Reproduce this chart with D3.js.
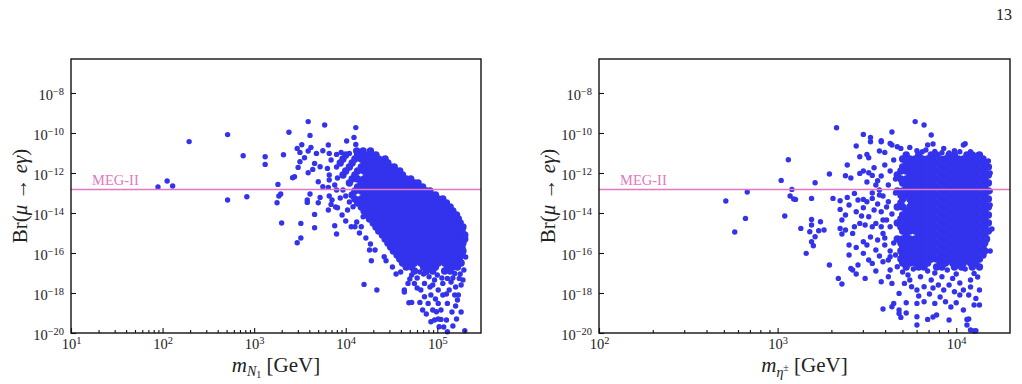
<!DOCTYPE html>
<html>
<head>
<meta charset="utf-8">
<script src="https://cdn.jsdelivr.net/npm/d3@7"></script>
<style>
    body { margin: 0; background: #fff; }
    svg text { font-family: "Liberation Serif", "DejaVu Serif", serif; fill: #222; }
</style>
</head>
<body>
<svg id="chart"></svg>
<script>
// ---- data (all values are log10) ----
const megLimit = 1.5e-13
const yTickExps = [-20, -18, -16, -14, -12, -10, -8]
const n1TickExps = [1, 2, 3, 4, 5]
const etaTickExps = [2, 3, 4]

// scattered points: [log10 m, log10 Br]
const n1Scatter = [
    [1.95, -12.70], [2.05, -12.40], [2.11, -12.65], [2.29, -10.43], [2.71, -10.08], [2.88, -11.14], [2.71, -13.35], [2.92, -13.19],
    [3.12, -11.19], [3.12, -11.57], [3.32, -11.09], [3.38, -9.96], [3.59, -9.43], [3.77, -9.60], [3.61, -10.12], [3.47, -10.77],
    [3.52, -10.59], [3.62, -10.72], [3.59, -10.90], [3.50, -10.97], [3.55, -11.24], [3.50, -11.44], [3.48, -11.72], [3.68, -11.02],
    [3.75, -10.89], [3.81, -10.60], [3.82, -11.02], [3.90, -11.07], [3.66, -11.52], [3.72, -11.69], [3.64, -11.82], [3.80, -11.77],
    [3.84, -11.35], [3.59, -11.99], [3.44, -12.19], [3.42, -12.24], [3.82, -12.10], [3.82, -12.35], [3.70, -12.44], [3.75, -12.69],
    [3.81, -12.72], [3.88, -12.60], [3.26, -12.57], [3.29, -13.05], [3.27, -13.15], [3.25, -13.49], [3.61, -13.05], [3.58, -13.35],
    [3.58, -13.47], [3.72, -13.22], [3.70, -13.49], [3.82, -13.15], [3.85, -13.35], [3.84, -13.57], [3.91, -13.74], [3.81, -13.85],
    [3.66, -14.07], [3.30, -14.50], [3.51, -14.52], [3.66, -14.74], [3.88, -14.64], [3.90, -15.05], [3.51, -15.25], [3.47, -15.49],
    [4.11, -9.73], [4.01, -10.40], [4.09, -10.22], [4.11, -10.57], [3.95, -10.97], [4.04, -11.02],
    [3.90, -11.70], [3.91, -12.25], [3.90, -12.85], [3.89, -13.70], [4.00, -13.15], [3.97, -12.85], [4.02, -13.85], [4.08, -13.69],
    [4.19, -14.19], [4.06, -14.69], [4.10, -14.69], [4.17, -14.69], [4.22, -15.25], [4.27, -15.55], [4.26, -15.85], [4.32, -15.85],
    [4.42, -16.19], [4.28, -16.39], [4.44, -16.39], [4.51, -16.70], [4.20, -17.57], [4.34, -17.85], [4.64, -17.85], [4.69, -18.49],
    [3.96, -14.10], [4.00, -14.40], [4.04, -13.45], [3.94, -13.25], [4.12, -14.45], [4.15, -15.00],
    [4.68, -17.52], [4.72, -18.47], [4.81, -18.47], [4.84, -18.85], [4.88, -19.05], [4.93, -19.44], [4.97, -19.35], [5.01, -19.30],
    [5.04, -19.32], [5.10, -19.35], [5.02, -19.69], [5.11, -19.94], [5.21, -19.30], [5.30, -19.89], [4.99, -18.94], [5.04, -18.85],
    [5.11, -18.52], [5.19, -18.10], [5.22, -18.35], [5.26, -17.60], [5.28, -17.35], [5.24, -17.27], [5.19, -17.02], [5.11, -17.27],
    [5.06, -17.52], [5.01, -17.85], [4.93, -18.10], [4.86, -18.19], [4.82, -17.85], [4.75, -17.52], [4.86, -17.52], [4.91, -17.19],
    [4.97, -17.35], [5.01, -18.52], [5.06, -18.10], [4.90, -18.52], [4.95, -18.85], [4.72, -17.10], [4.81, -16.95], [5.08, -16.90],
    [5.15, -17.45], [5.13, -17.85], [5.20, -18.65], [5.26, -18.95], [4.92, -17.70], [4.64, -17.95], [5.17, -19.65], [5.07, -19.70],
    [5.25, -17.05], [4.78, -17.25], [5.16, -18.95],
    [4.60, -16.95], [4.70, -17.30], [4.85, -17.05], [5.00, -17.10], [5.05, -17.25], [5.17, -17.25], [4.95, -17.60], [5.20, -17.70],
    [4.78, -17.75], [5.10, -18.05], [4.98, -18.30], [5.23, -18.10], [4.55, -17.05], [4.88, -16.95], [5.29, -16.85], [5.31, -16.20]
]

// dense core: [log10 Br, [log10 m, ...]]
const n1CoreRows = [
    [-10.9, [4.12, 4.19, 4.27]],
    [-11.1, [4.00, 4.13, 4.20, 4.26, 4.33]],
    [-11.3, [3.97, 4.10, 4.17, 4.23, 4.30, 4.36, 4.43]],
    [-11.5, [3.94, 4.07, 4.20, 4.26, 4.33, 4.40, 4.46]],
    [-11.7, [4.04, 4.17, 4.23, 4.30, 4.36, 4.43, 4.49, 4.53]],
    [-11.9, [4.00, 4.13, 4.20, 4.26, 4.33, 4.40, 4.46, 4.52, 4.59]],
    [-12.1, [3.97, 4.10, 4.23, 4.30, 4.36, 4.43, 4.49, 4.56, 4.62]],
    [-12.3, [4.07, 4.13, 4.20, 4.26, 4.33, 4.40, 4.46, 4.52, 4.59, 4.66, 4.71]],
    [-12.5, [4.04, 4.17, 4.23, 4.30, 4.36, 4.43, 4.49, 4.56, 4.62, 4.69, 4.75, 4.79]],
    [-12.7, [4.13, 4.20, 4.26, 4.33, 4.40, 4.46, 4.52, 4.59, 4.66, 4.72, 4.78, 4.84]],
    [-12.9, [4.10, 4.17, 4.23, 4.30, 4.36, 4.43, 4.49, 4.56, 4.62, 4.69, 4.75, 4.82, 4.88, 4.92]],
    [-13.1, [4.07, 4.20, 4.26, 4.33, 4.40, 4.46, 4.52, 4.59, 4.66, 4.72, 4.78, 4.85, 4.92, 4.98]],
    [-13.3, [4.10, 4.17, 4.23, 4.30, 4.36, 4.43, 4.49, 4.56, 4.62, 4.69, 4.75, 4.82, 4.88, 4.95, 5.01, 5.06]],
    [-13.5, [4.13, 4.20, 4.26, 4.33, 4.40, 4.46, 4.52, 4.59, 4.66, 4.72, 4.78, 4.85, 4.92, 4.98, 5.04, 5.10]],
    [-13.7, [4.17, 4.23, 4.30, 4.36, 4.43, 4.49, 4.56, 4.62, 4.69, 4.75, 4.82, 4.88, 4.95, 5.01, 5.08, 5.14]],
    [-13.9, [4.20, 4.26, 4.33, 4.40, 4.46, 4.52, 4.59, 4.66, 4.72, 4.78, 4.85, 4.92, 4.98, 5.04, 5.11, 5.17]],
    [-14.1, [4.23, 4.30, 4.36, 4.43, 4.49, 4.56, 4.62, 4.69, 4.75, 4.82, 4.88, 4.95, 5.01, 5.08, 5.14, 5.21]],
    [-14.3, [4.26, 4.33, 4.40, 4.46, 4.52, 4.59, 4.66, 4.72, 4.78, 4.85, 4.92, 4.98, 5.04, 5.11, 5.17, 5.23]],
    [-14.5, [4.30, 4.36, 4.43, 4.49, 4.56, 4.62, 4.69, 4.75, 4.82, 4.88, 4.95, 5.01, 5.08, 5.14, 5.21, 5.25]],
    [-14.7, [4.33, 4.40, 4.46, 4.52, 4.59, 4.66, 4.72, 4.78, 4.85, 4.92, 4.98, 5.04, 5.11, 5.17, 5.24, 5.28]],
    [-14.9, [4.36, 4.43, 4.49, 4.56, 4.62, 4.69, 4.75, 4.82, 4.88, 4.95, 5.01, 5.08, 5.14, 5.21, 5.27]],
    [-15.1, [4.40, 4.46, 4.52, 4.59, 4.66, 4.72, 4.78, 4.85, 4.92, 4.98, 5.04, 5.11, 5.17, 5.24, 5.30]],
    [-15.3, [4.43, 4.49, 4.56, 4.62, 4.69, 4.75, 4.82, 4.88, 4.95, 5.01, 5.08, 5.14, 5.21, 5.27, 5.30]],
    [-15.5, [4.46, 4.52, 4.59, 4.66, 4.72, 4.78, 4.85, 4.92, 4.98, 5.04, 5.11, 5.17, 5.24, 5.28]],
    [-15.7, [4.49, 4.56, 4.62, 4.69, 4.75, 4.82, 4.88, 4.95, 5.01, 5.08, 5.14, 5.21, 5.27]],
    [-15.9, [4.52, 4.59, 4.66, 4.72, 4.78, 4.85, 4.92, 4.98, 5.04, 5.11, 5.17, 5.24, 5.28]],
    [-16.1, [4.56, 4.62, 4.69, 4.75, 4.82, 4.88, 4.95, 5.01, 5.08, 5.14, 5.21, 5.27]],
    [-16.3, [4.59, 4.66, 4.72, 4.78, 4.85, 4.92, 4.98, 5.04, 5.11, 5.17, 5.24]],
    [-16.5, [4.62, 4.69, 4.75, 4.82, 4.88, 4.95, 5.01, 5.08, 5.14, 5.21, 5.26]],
    [-16.7, [4.66, 4.72, 4.85, 4.92, 4.98, 5.11, 5.17, 5.22]],
    [-16.9, [4.75, 4.88, 4.95, 5.08, 5.14]]
]

const etaScatter = [
    [2.71, -13.40], [2.76, -14.95], [2.82, -14.27], [2.83, -12.95], [3.02, -12.37], [3.06, -11.34], [3.08, -12.82], [3.07, -13.15],
    [3.09, -13.30], [3.04, -14.15], [3.13, -14.77], [3.33, -9.74], [3.48, -10.07], [3.52, -10.22], [3.52, -10.44], [3.44, -10.65],
    [3.58, -10.44], [3.64, -9.95], [3.57, -10.90], [3.60, -10.97], [3.64, -10.60], [3.46, -11.19], [3.50, -11.07], [3.51, -11.24],
    [3.65, -11.35], [3.39, -11.60], [3.29, -12.05], [3.38, -12.14], [3.41, -12.25], [3.46, -12.02], [3.48, -11.90], [3.51, -11.99],
    [3.54, -11.74], [3.53, -12.12], [3.56, -12.39], [3.21, -12.49], [3.10, -13.32], [3.19, -13.27], [3.31, -13.27], [3.35, -13.39],
    [3.39, -13.22], [3.40, -13.60], [3.35, -13.82], [3.38, -14.10], [3.43, -13.02], [3.45, -13.35], [3.48, -13.32], [3.50, -13.44],
    [3.53, -13.27], [3.57, -13.10], [3.59, -13.15], [3.62, -13.44], [3.48, -13.74], [3.54, -13.85], [3.44, -13.94], [3.47, -14.15],
    [3.58, -13.94], [3.59, -14.35], [3.51, -14.19], [3.36, -14.35], [3.19, -14.32], [3.24, -14.44], [3.19, -14.60], [3.18, -14.94],
    [3.23, -14.89], [3.26, -14.85], [3.21, -15.19], [3.19, -15.44], [3.20, -15.64], [3.16, -16.02], [3.29, -16.60], [3.34, -17.27],
    [3.36, -17.55], [3.35, -14.77], [3.38, -14.85], [3.42, -15.02], [3.36, -15.05], [3.40, -15.60], [3.40, -16.10], [3.44, -15.72],
    [3.48, -15.44], [3.50, -15.60], [3.48, -16.02], [3.51, -16.35], [3.53, -16.52], [3.45, -16.60], [3.41, -16.77], [3.42, -16.85],
    [3.44, -17.05], [3.49, -17.27], [3.55, -15.85], [3.56, -15.35], [3.59, -15.02], [3.60, -15.60], [3.59, -16.44], [3.58, -17.44],
    [3.62, -17.19], [3.63, -16.85], [3.64, -17.52], [3.59, -18.80], [3.64, -18.69], [3.43, -14.69], [3.46, -14.52], [3.49, -14.60],
    [3.53, -14.69], [3.58, -14.69], [3.55, -14.52], [3.61, -14.35], [3.63, -14.69],
    [3.60, -11.60], [3.63, -11.90], [3.58, -12.15], [3.62, -12.60], [3.57, -12.85], [3.61, -13.70], [3.56, -13.55], [3.64, -14.05],
    [3.60, -15.25], [3.63, -15.90], [3.57, -16.15], [3.62, -16.35], [3.55, -12.60], [3.53, -13.00], [3.66, -12.30], [3.66, -13.00],
    [3.65, -15.50], [3.66, -16.10], [3.52, -15.20], [3.55, -16.90], [3.50, -12.45],
    [3.77, -9.43], [3.82, -9.60], [3.86, -10.10], [3.84, -10.60], [3.87, -10.55], [3.93, -10.77], [4.05, -10.54], [3.63, -10.52],
    [3.69, -10.77], [3.74, -10.72], [3.78, -10.89], [3.81, -10.94], [3.58, -10.39], [3.67, -10.69], [3.83, -10.85], [3.92, -10.99],
    [3.96, -11.00], [4.02, -10.94], [4.04, -10.60], [4.08, -10.94], [4.12, -11.10], [4.15, -11.52],
    [3.71, -17.52], [3.75, -17.69], [3.78, -17.85], [3.82, -17.69], [3.86, -17.35], [3.90, -17.60], [3.93, -17.85], [3.96, -17.60],
    [3.99, -17.94], [4.02, -18.10], [4.04, -17.85], [3.68, -18.02], [3.72, -18.49], [3.78, -18.52], [3.82, -18.44], [3.88, -18.52],
    [3.94, -18.44], [4.00, -18.49], [4.04, -18.85], [3.68, -18.85], [3.69, -19.22], [3.78, -19.19], [3.78, -19.60], [3.84, -19.32],
    [3.89, -19.10], [3.96, -19.35], [3.65, -18.52], [3.73, -17.10], [3.80, -17.19], [3.92, -17.19], [3.98, -17.27], [4.08, -17.35],
    [4.10, -17.02], [3.67, -16.69], [3.63, -16.19], [4.15, -16.00], [4.13, -16.69], [4.13, -17.85], [4.11, -18.27], [4.13, -18.60],
    [4.07, -18.10], [4.06, -19.32], [4.08, -19.85], [4.11, -19.89], [4.06, -19.60], [3.68, -19.02], [3.87, -19.20], [4.07, -19.30],
    [4.10, -19.90], [3.70, -16.95], [3.76, -16.80], [3.84, -16.90], [3.88, -17.00], [3.95, -16.85], [4.00, -17.05], [4.05, -16.80],
    [4.12, -17.20], [3.74, -17.35], [3.87, -17.75], [4.02, -17.50], [4.08, -17.70], [3.79, -18.15], [3.91, -18.20], [3.85, -18.05],
    [4.10, -18.60], [3.97, -18.70], [3.72, -19.00],
    [4.19, -12.00], [4.19, -13.60], [4.20, -14.80], [4.19, -15.90], [4.18, -11.40], [3.88, -10.92], [3.99, -10.88], [4.19, -12.90]
]

const etaCoreRows = [
    [-11.1, [3.72, 3.79, 3.86, 3.89, 3.96, 3.99, 4.06, 4.09, 4.13]],
    [-11.3, [3.70, 3.74, 3.77, 3.81, 3.84, 3.87, 3.91, 3.94, 3.98, 4.01, 4.04, 4.08, 4.11, 4.15]],
    [-11.5, [3.72, 3.75, 3.79, 3.82, 3.86, 3.89, 3.92, 3.96, 3.99, 4.03, 4.06, 4.09, 4.13, 4.16]],
    [-11.7, [3.70, 3.74, 3.77, 3.81, 3.84, 3.87, 3.91, 3.94, 3.98, 4.01, 4.04, 4.08, 4.11, 4.15, 4.18]],
    [-11.9, [3.69, 3.72, 3.75, 3.79, 3.82, 3.86, 3.89, 3.92, 3.96, 3.99, 4.03, 4.06, 4.09, 4.13, 4.16]],
    [-12.1, [3.67, 3.74, 3.77, 3.81, 3.84, 3.87, 3.91, 3.94, 3.98, 4.01, 4.04, 4.08, 4.11, 4.15, 4.18]],
    [-12.3, [3.69, 3.72, 3.75, 3.79, 3.82, 3.86, 3.89, 3.92, 3.96, 3.99, 4.03, 4.06, 4.09, 4.13, 4.16]],
    [-12.5, [3.70, 3.74, 3.77, 3.81, 3.84, 3.87, 3.91, 3.94, 3.98, 4.01, 4.04, 4.08, 4.11, 4.15, 4.18]],
    [-12.7, [3.72, 3.75, 3.79, 3.82, 3.86, 3.89, 3.92, 3.96, 3.99, 4.03, 4.06, 4.09, 4.13, 4.16]],
    [-12.9, [3.67, 3.70, 3.74, 3.77, 3.81, 3.84, 3.87, 3.91, 3.94, 3.98, 4.01, 4.04, 4.08, 4.11, 4.15, 4.18]],
    [-13.1, [3.69, 3.72, 3.75, 3.79, 3.82, 3.86, 3.89, 3.92, 3.96, 3.99, 4.03, 4.06, 4.09, 4.13, 4.16]],
    [-13.3, [3.70, 3.74, 3.77, 3.81, 3.84, 3.87, 3.91, 3.94, 3.98, 4.01, 4.04, 4.08, 4.11, 4.15, 4.18]],
    [-13.5, [3.69, 3.75, 3.79, 3.82, 3.86, 3.89, 3.92, 3.96, 3.99, 4.03, 4.06, 4.09, 4.13, 4.16]],
    [-13.7, [3.67, 3.70, 3.74, 3.77, 3.81, 3.84, 3.87, 3.91, 3.94, 3.98, 4.01, 4.04, 4.08, 4.11, 4.15, 4.18]],
    [-13.9, [3.72, 3.75, 3.79, 3.82, 3.86, 3.89, 3.92, 3.96, 3.99, 4.03, 4.06, 4.09, 4.13, 4.16]],
    [-14.1, [3.70, 3.74, 3.77, 3.81, 3.84, 3.87, 3.91, 3.94, 3.98, 4.01, 4.04, 4.08, 4.11, 4.15, 4.18]],
    [-14.3, [3.69, 3.72, 3.75, 3.79, 3.82, 3.86, 3.89, 3.92, 3.96, 3.99, 4.03, 4.06, 4.09, 4.13, 4.16]],
    [-14.5, [3.67, 3.70, 3.74, 3.77, 3.81, 3.84, 3.87, 3.91, 3.94, 3.98, 4.01, 4.04, 4.08, 4.11, 4.15, 4.18]],
    [-14.7, [3.69, 3.72, 3.75, 3.79, 3.82, 3.86, 3.89, 3.92, 3.96, 3.99, 4.03, 4.06, 4.09, 4.13, 4.16]],
    [-14.9, [3.70, 3.74, 3.77, 3.81, 3.84, 3.87, 3.91, 3.94, 3.98, 4.01, 4.04, 4.08, 4.11, 4.15, 4.18]],
    [-15.1, [3.72, 3.79, 3.82, 3.86, 3.89, 3.92, 3.96, 3.99, 4.03, 4.06, 4.09, 4.13, 4.16]],
    [-15.3, [3.67, 3.70, 3.74, 3.77, 3.81, 3.84, 3.87, 3.91, 3.94, 3.98, 4.01, 4.04, 4.08, 4.11, 4.15, 4.17]],
    [-15.5, [3.69, 3.72, 3.75, 3.79, 3.82, 3.86, 3.89, 3.92, 3.96, 3.99, 4.03, 4.06, 4.09, 4.13, 4.16]],
    [-15.7, [3.70, 3.74, 3.77, 3.81, 3.84, 3.87, 3.91, 3.94, 3.98, 4.01, 4.04, 4.08, 4.11, 4.15]],
    [-15.9, [3.69, 3.72, 3.75, 3.79, 3.82, 3.86, 3.89, 3.92, 3.96, 3.99, 4.03, 4.06, 4.09, 4.13, 4.16]],
    [-16.1, [3.70, 3.74, 3.77, 3.81, 3.84, 3.87, 3.91, 3.94, 3.98, 4.01, 4.04, 4.08, 4.11, 4.15]],
    [-16.3, [3.69, 3.72, 3.75, 3.79, 3.82, 3.86, 3.89, 3.92, 3.96, 3.99, 4.03, 4.06, 4.09, 4.13]],
    [-16.5, [3.70, 3.74, 3.77, 3.81, 3.84, 3.91, 3.94, 3.98, 4.01, 4.04, 4.08, 4.11]],
    [-16.7, [3.72, 3.79, 3.82, 3.89, 3.92, 3.99, 4.03, 4.09, 4.13]]
]

// ---- layout ----
const chart = { width: 1022, height: 384 }
const plotTop = 59
const plotBottom = 333
const pointColor = "#3333ee"
const megColor = "#e377c2"

const svg = d3.select("#chart")
    .attr("width", chart.width)
    .attr("height", chart.height)
    .style("background", "#fff")

function flatten(scatter, rows) {
    let pts = scatter.map(d => ({ m: Math.pow(10, d[0]), br: Math.pow(10, d[1]), r: 2.7 }))
    rows.forEach(row => {
        row[1].forEach(lx => pts.push({ m: Math.pow(10, lx), br: Math.pow(10, row[0]), r: 3.7 }))
    })
    return pts
}

function powerLabel(sel, exp) {
    sel.text(null)
    sel.append("tspan").text("10")
    sel.append("tspan")
        .attr("dy", "-0.5em")
        .attr("font-size", "0.72em")
        .text(String(exp).replace("-", "\u2212"))
}

function drawPanel(p) {
    const x = d3.scaleLog().domain(p.xDomain).range([p.left, p.right])
    const y = d3.scaleLog().domain([1e-20, 5e-7]).range([plotBottom, plotTop])
    const g = svg.append("g")

    // points
    g.append("g")
        .selectAll("circle")
        .data(p.points)
        .enter()
        .append("circle")
        .attr("cx", d => x(d.m))
        .attr("cy", d => y(d.br))
        .attr("r", d => d.r)
        .attr("fill", pointColor)

    // MEG-II line
    g.append("line")
        .attr("x1", p.left).attr("x2", p.right)
        .attr("y1", y(megLimit)).attr("y2", y(megLimit))
        .attr("stroke", megColor)
        .attr("stroke-width", 1.5)
    g.append("text")
        .attr("x", p.left + 21)
        .attr("y", y(megLimit) - 4.5)
        .attr("font-size", 14.5)
        .style("fill", megColor)
        .text("MEG-II")

    // minor x ticks
    const minors = []
    const lo = Math.floor(Math.log10(p.xDomain[0])), hi = Math.ceil(Math.log10(p.xDomain[1]))
    for (let e = lo; e < hi; e++) {
        for (let k = 2; k <= 9; k++) {
            const v = k * Math.pow(10, e)
            if (v > p.xDomain[0] && v < p.xDomain[1]) minors.push(v)
        }
    }
    g.append("g")
        .attr("transform", "translate(0," + plotBottom + ")")
        .call(d3.axisBottom(x).tickValues(minors).tickSize(-3).tickFormat(""))
        .call(a => a.select(".domain").remove())

    // major x ticks
    const xAxis = g.append("g")
        .attr("transform", "translate(0," + plotBottom + ")")
        .call(d3.axisBottom(x).tickValues(p.xTickExps.map(e => Math.pow(10, e))).tickSize(-5))
    xAxis.select(".domain").remove()
    xAxis.selectAll("text")
        .attr("font-size", 14.5)
        .attr("y", 16)
        .attr("dy", null)
        .each(function (d) { powerLabel(d3.select(this), Math.round(Math.log10(d))) })

    // y ticks
    const yAxis = g.append("g")
        .attr("transform", "translate(" + p.left + ",0)")
        .call(d3.axisLeft(y).tickValues(yTickExps.map(e => Math.pow(10, e))).tickSize(-5).tickPadding(7))
    yAxis.select(".domain").remove()
    yAxis.selectAll("text")
        .attr("font-size", 14.5)
        .attr("dy", "0.45em")
        .each(function (d) { powerLabel(d3.select(this), Math.round(Math.log10(d))) })
    svg.selectAll(".tick line").attr("stroke", "#111").attr("stroke-width", 1.1)
    svg.selectAll(".tick text").style("fill", "#222").attr("font-family", null)

    // frame
    g.append("rect")
        .attr("x", p.left).attr("y", plotTop)
        .attr("width", p.right - p.left).attr("height", plotBottom - plotTop)
        .attr("fill", "none")
        .attr("stroke", "#111")
        .attr("stroke-width", 1.4)

    // y label
    const yl = g.append("text")
        .attr("transform", "translate(" + (p.left - 44) + "," + ((plotTop + plotBottom) / 2) + ") rotate(-90)")
        .attr("text-anchor", "middle")
        .attr("font-size", 21)
    yl.append("tspan").text("Br(")
    yl.append("tspan").attr("font-style", "italic").text("\u03bc")
    yl.append("tspan").text(" \u2192 ")
    yl.append("tspan").attr("font-style", "italic").text("e\u03b3")
    yl.append("tspan").text(")")

    // x label
    const xl = g.append("text")
        .attr("x", (p.left + p.right) / 2)
        .attr("y", 372)
        .attr("text-anchor", "middle")
        .attr("font-size", 21)
    p.xLabel(xl)
}

drawPanel({
    left: 71, right: 481,
    xDomain: [10, 3e5],
    xTickExps: n1TickExps,
    points: flatten(n1Scatter, n1CoreRows),
    xLabel: t => {
        t.append("tspan").attr("font-style", "italic").text("m")
        t.append("tspan").attr("font-style", "italic").attr("font-size", 14).attr("dy", 4).text("N")
        t.append("tspan").attr("font-size", 10).attr("dy", 2).text("1")
        t.append("tspan").attr("dy", -6).text(" [GeV]")
    }
})

drawPanel({
    left: 599, right: 1010,
    xDomain: [100, 2e4],
    xTickExps: etaTickExps,
    points: flatten(etaScatter, etaCoreRows),
    xLabel: t => {
        t.append("tspan").attr("font-style", "italic").text("m")
        t.append("tspan").attr("font-style", "italic").attr("font-size", 14).attr("dy", 5).text("\u03b7")
        t.append("tspan").attr("font-size", 10).attr("dy", -6).text("\u00b1")
        t.append("tspan").attr("dy", 1).text(" [GeV]")
    }
})

// page number
svg.append("text")
    .attr("x", 1012)
    .attr("y", 20)
    .attr("text-anchor", "end")
    .attr("font-size", 16)
    .text("13")
</script>
</body>
</html>
